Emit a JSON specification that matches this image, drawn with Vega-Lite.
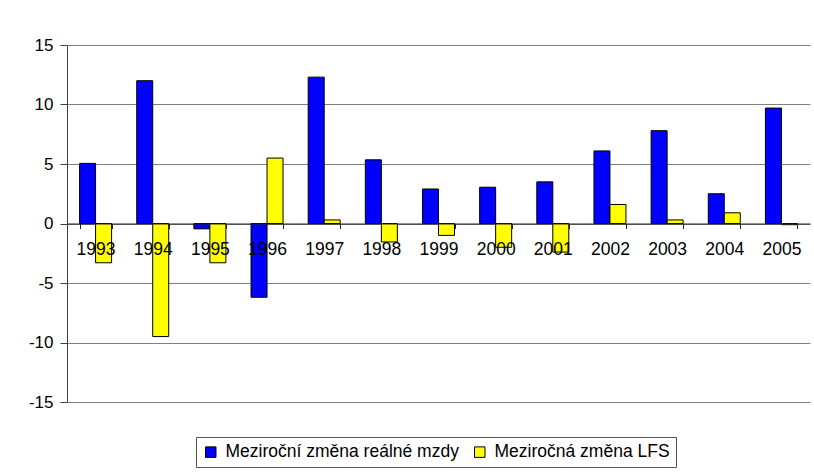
{
  "$schema": "https://vega.github.io/schema/vega-lite/v6.json",
  "autosize": "none",
  "width": 743,
  "height": 357,
  "padding": {"left": 67, "top": 45, "right": 4, "bottom": 72},
  "background": "white",
  "data": {
    "values": [
      {"year": "1993", "series": "Meziroční změna reálné mzdy", "value": 5.05},
      {"year": "1993", "series": "Meziročná změna LFS", "value": -3.3},
      {"year": "1994", "series": "Meziroční změna reálné mzdy", "value": 12.0},
      {"year": "1994", "series": "Meziročná změna LFS", "value": -9.5},
      {"year": "1995", "series": "Meziroční změna reálné mzdy", "value": -0.45},
      {"year": "1995", "series": "Meziročná změna LFS", "value": -3.3},
      {"year": "1996", "series": "Meziroční změna reálné mzdy", "value": -6.2},
      {"year": "1996", "series": "Meziročná změna LFS", "value": 5.5},
      {"year": "1997", "series": "Meziroční změna reálné mzdy", "value": 12.3},
      {"year": "1997", "series": "Meziročná změna LFS", "value": 0.3},
      {"year": "1998", "series": "Meziroční změna reálné mzdy", "value": 5.35},
      {"year": "1998", "series": "Meziročná změna LFS", "value": -1.55},
      {"year": "1999", "series": "Meziroční změna reálné mzdy", "value": 2.9},
      {"year": "1999", "series": "Meziročná změna LFS", "value": -1.0},
      {"year": "2000", "series": "Meziroční změna reálné mzdy", "value": 3.05},
      {"year": "2000", "series": "Meziročná změna LFS", "value": -2.0},
      {"year": "2001", "series": "Meziroční změna reálné mzdy", "value": 3.5},
      {"year": "2001", "series": "Meziročná změna LFS", "value": -2.4},
      {"year": "2002", "series": "Meziroční změna reálné mzdy", "value": 6.1},
      {"year": "2002", "series": "Meziročná změna LFS", "value": 1.6},
      {"year": "2003", "series": "Meziroční změna reálné mzdy", "value": 7.8},
      {"year": "2003", "series": "Meziročná změna LFS", "value": 0.3},
      {"year": "2004", "series": "Meziroční změna reálné mzdy", "value": 2.5},
      {"year": "2004", "series": "Meziročná změna LFS", "value": 0.9},
      {"year": "2005", "series": "Meziroční změna reálné mzdy", "value": 9.7},
      {"year": "2005", "series": "Meziročná změna LFS", "value": -0.1}
    ]
  },
  "mark": {"type": "bar", "stroke": "black", "strokeWidth": 1},
  "encoding": {
    "x": {
      "field": "year",
      "type": "nominal",
      "scale": {"paddingInner": 0.44, "paddingOuter": 0.22},
      "axis": {
        "title": null,
        "labelAngle": 0,
        "offset": -178.5,
        "zindex": 1,
        "domainColor": "#222",
        "tickColor": "#222",
        "tickBand": "extent",
        "tickSize": 5,
        "labelPadding": 12,
        "labelFontSize": 17.5,
        "labelColor": "black",
        "labelFont": "Liberation Sans"
      }
    },
    "xOffset": {
      "field": "series",
      "type": "nominal",
      "sort": ["Meziroční změna reálné mzdy", "Meziročná změna LFS"],
      "scale": {"paddingInner": 0, "paddingOuter": 0}
    },
    "y": {
      "field": "value",
      "type": "quantitative",
      "scale": {"domain": [-15, 15], "nice": false},
      "axis": {
        "title": null,
        "values": [-15, -10, -5, 0, 5, 10, 15],
        "labelExpr": "'' + datum.value",
        "grid": true,
        "gridColor": "#808080",
        "gridWidth": 1,
        "domainColor": "#404040",
        "tickColor": "#404040",
        "tickSize": 7,
        "labelPadding": 7,
        "labelFontSize": 17,
        "labelColor": "black",
        "labelFont": "Liberation Sans"
      }
    },
    "color": {
      "field": "series",
      "type": "nominal",
      "sort": ["Meziroční změna reálné mzdy", "Meziročná změna LFS"],
      "scale": {
        "domain": ["Meziroční změna reálné mzdy", "Meziročná změna LFS"],
        "range": ["#0000FF", "#FFFF00"]
      },
      "legend": {
        "title": null,
        "orient": "none",
        "legendX": 129,
        "legendY": 392,
        "direction": "horizontal",
        "strokeColor": "#555",
        "padding": 6,
        "symbolType": "square",
        "symbolSize": 110,
        "symbolStrokeColor": "black",
        "symbolStrokeWidth": 1,
        "symbolOpacity": 1,
        "labelFontSize": 17.5,
        "labelFont": "Liberation Sans",
        "labelColor": "black",
        "labelOffset": 6,
        "columnPadding": 12,
        "labelLimit": 400
      }
    }
  },
  "config": {
    "view": {"stroke": null},
    "axis": {"gridOpacity": 1}
  }
}
